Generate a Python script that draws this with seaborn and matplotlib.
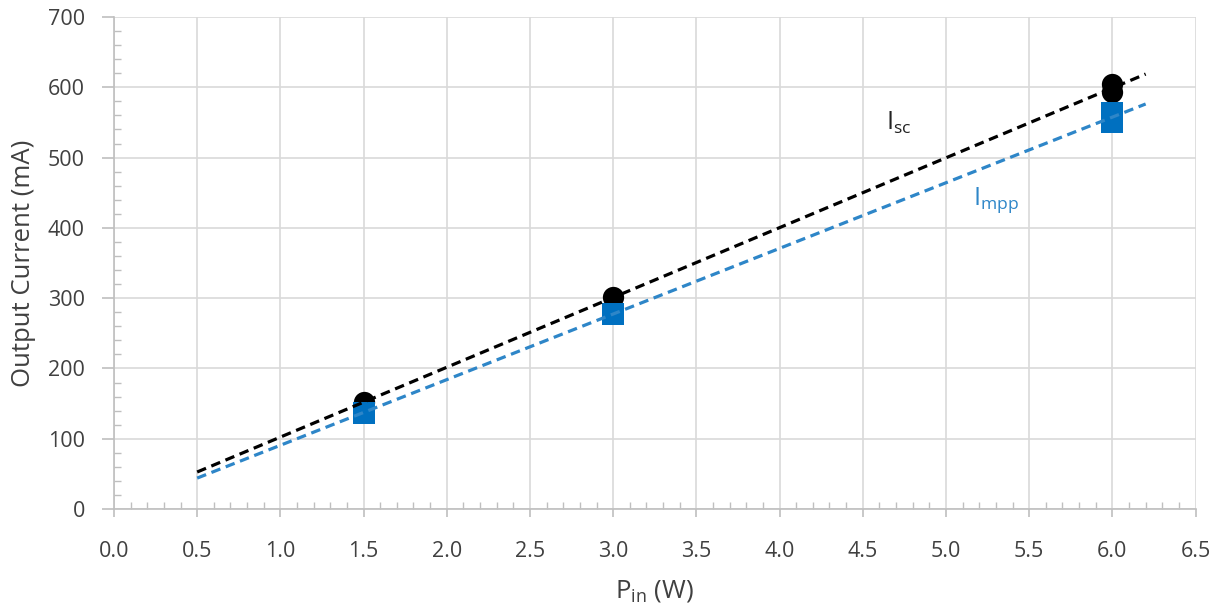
import numpy as np
import pandas as pd
import matplotlib
matplotlib.use("Agg")
import matplotlib.pyplot as plt
from matplotlib.ticker import MultipleLocator
import seaborn as sns

pin_w = [1.5, 3.0, 6.0, 6.0]
isc_ma = [152, 301, 605, 593]
impp_ma = [137, 278, 564, 551]
trend_range = [0.5, 6.2]   # trendline extent (backward / forward forecast)

x_ticks = [0.0, 0.5, 1.0, 1.5, 2.0, 2.5, 3.0, 3.5, 4.0, 4.5, 5.0, 5.5, 6.0, 6.5]
y_ticks = [0, 100, 200, 300, 400, 500, 600, 700]

sns.set_theme(style="white")
plt.rcParams['font.family'] = ['Open Sans', 'DejaVu Sans']

fig = plt.figure(figsize=(12.15, 6.08), dpi=100)
ax = fig.add_axes([0.0938, 0.1628, 0.8902, 0.8092])

grid_c = "#d9d9d9"
spine_c = "#bfbfbf"
text_c = "#404040"
blue_mark = "#0070C0"
blue_line = "#2E86C8"

n = len(pin_w)
df_pts = pd.DataFrame({"Pin": pin_w * 2,
                       "I": isc_ma + impp_ma,
                       "series": ["Isc"] * n + ["Impp"] * n})

# Linear trendlines (least-squares fit of the data)
lines = []
for name, ys in [("Isc", isc_ma), ("Impp", impp_ma)]:
    k, b = np.polyfit(pin_w, ys, 1)
    xs = np.array(trend_range)
    lines.append(pd.DataFrame({"Pin": xs, "I": k * xs + b, "series": name}))
df_lines = pd.concat(lines)

sns.scatterplot(data=df_pts[df_pts.series == "Isc"], x="Pin", y="I", ax=ax,
                color="black", marker="o", s=235, linewidth=0, zorder=3, legend=False)
sns.scatterplot(data=df_pts[df_pts.series == "Impp"], x="Pin", y="I", ax=ax,
                color=blue_mark, marker="s", s=250, linewidth=0, zorder=4, legend=False)
dash = (0, (3.0, 1.8))
sns.lineplot(data=df_lines[df_lines.series == "Isc"], x="Pin", y="I", ax=ax,
             color="black", linewidth=2.3, linestyle=dash, zorder=5)
sns.lineplot(data=df_lines[df_lines.series == "Impp"], x="Pin", y="I", ax=ax,
             color=blue_line, linewidth=2.3, linestyle=dash, zorder=5)

ax.set_xlim(0, 6.5)
ax.set_ylim(0, 700)
ax.set_xticks(x_ticks)
ax.set_xticklabels([f"{v:.1f}" for v in x_ticks])
ax.set_yticks(y_ticks)
ax.set_yticklabels([str(v) for v in y_ticks])
ax.xaxis.set_minor_locator(MultipleLocator(0.1))
ax.yaxis.set_minor_locator(MultipleLocator(20))

ax.grid(True, which="major", color=grid_c, linewidth=1.2)
ax.set_axisbelow(True)
for s in ["top", "right"]:
    ax.spines[s].set_visible(False)
for s in ["left", "bottom"]:
    ax.spines[s].set_color(spine_c)
    ax.spines[s].set_linewidth(1.2)

ax.tick_params(axis="both", which="major", direction="out", width=1.2,
               color=spine_c, labelsize=15.5, labelcolor=text_c)
ax.tick_params(axis="x", which="major", length=6, pad=17)
ax.tick_params(axis="y", which="major", length=9, pad=12)
ax.tick_params(axis="both", which="minor", direction="in", length=5, width=1.0,
               color=spine_c)
ax.tick_params(axis="x", which="both", bottom=True)
ax.tick_params(axis="y", which="both", left=True)

ax.set_xlabel(r"P$_\mathregular{in}$ (W)", fontsize=18.5, color=text_c, va="center")
ax.set_ylabel("Output Current (mA)", fontsize=18.5, color=text_c, va="center")
ax.xaxis.set_label_coords(0.5, -0.1667)
ax.yaxis.set_label_coords(-0.0832, 0.5)

ax.text(4.64, 549, r"I$_\mathregular{sc}$", fontsize=18, color="#222222",
        ha="left", va="center")
ax.text(5.16, 440, r"I$_\mathregular{mpp}$", fontsize=18, color=blue_line,
        ha="left", va="center")

fig.savefig("out.png", dpi=100)
